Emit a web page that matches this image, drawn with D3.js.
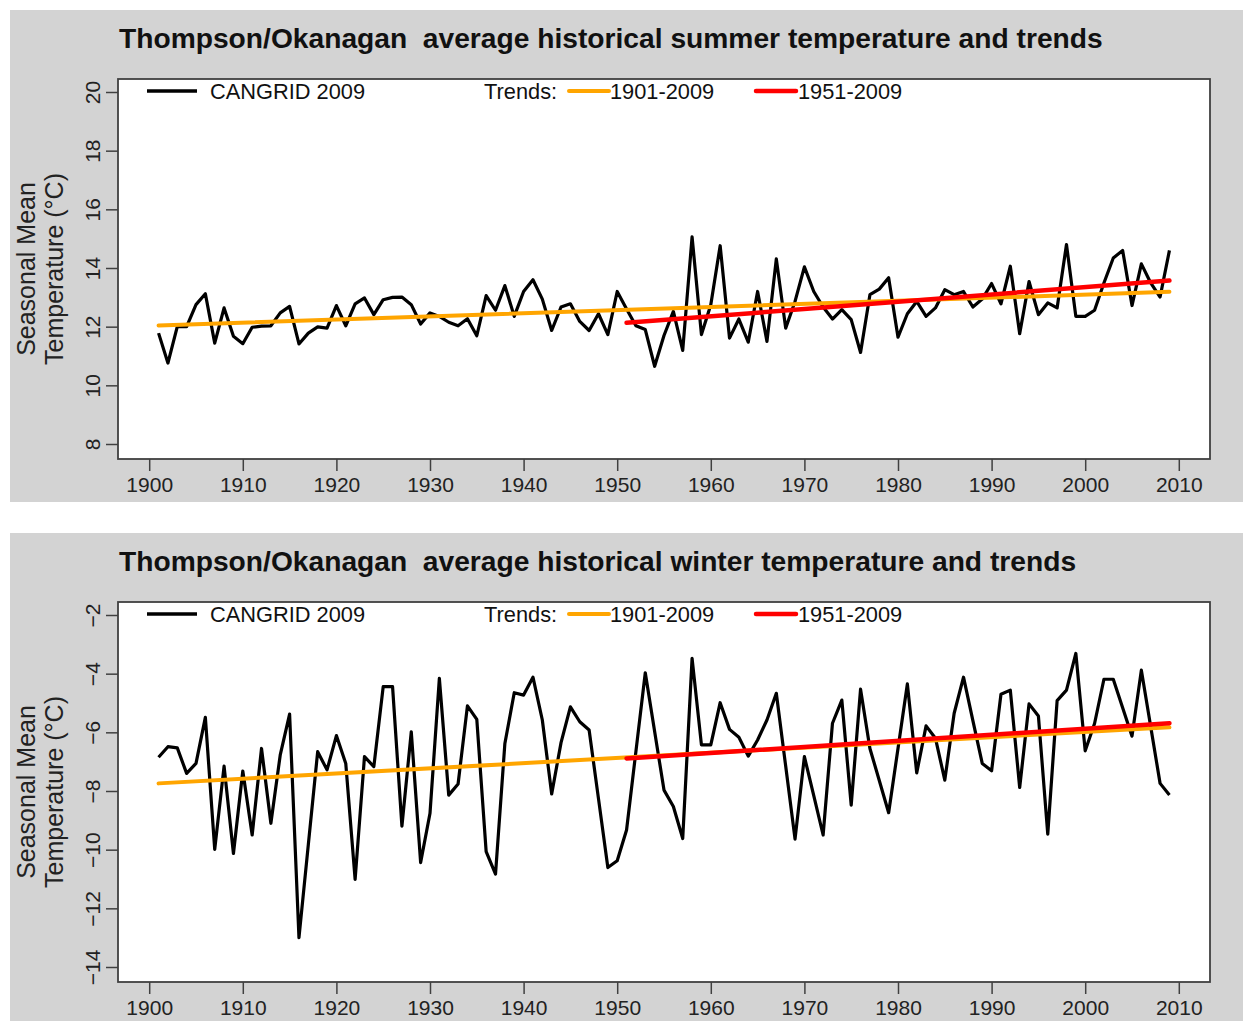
<!DOCTYPE html>
<html>
<head>
<meta charset="utf-8">
<script src="https://cdn.jsdelivr.net/npm/d3@7"></script>
<style>
 body { margin: 0; background: #fff; }
 text { font-family: "Liberation Sans", Arial, sans-serif; }
</style>
</head>
<body>
<script>
// Thompson/Okanagan seasonal mean temperature, two stacked panels

var years = d3.range(1901, 2010);

// summer values, 1901..2009
var summerTemp = [
 11.78, 10.76, 12.0, 12.0, 12.75, 13.12, 11.44, 12.64, 11.67, 11.42,
 11.98, 12.02, 12.03, 12.47, 12.69, 11.41, 11.78, 11.99, 11.95, 12.72,
 12.03, 12.78, 12.98, 12.41, 12.92, 13.0, 13.01, 12.75, 12.09, 12.47,
 12.35, 12.15, 12.03, 12.27, 11.69, 13.06, 12.56, 13.4, 12.35, 13.2,
 13.6, 12.94, 11.87, 12.67, 12.78, 12.18, 11.87, 12.44, 11.73, 13.2,
 12.6, 12.03, 11.9, 10.65, 11.7, 12.52, 11.19, 15.06, 11.73, 12.75,
 14.76, 11.61, 12.26, 11.47, 13.2, 11.5, 14.31, 11.95, 12.86, 14.04,
 13.2, 12.67, 12.26, 12.58, 12.24, 11.12, 13.09, 13.28, 13.67, 11.64,
 12.44, 12.86, 12.35, 12.64, 13.26, 13.09, 13.2, 12.67, 12.94, 13.47,
 12.78, 14.06, 11.76, 13.54, 12.41, 12.81, 12.64, 14.8, 12.35, 12.35,
 12.56, 13.49, 14.34, 14.6, 12.72, 14.14, 13.49, 13.01, 14.6
];

// winter values, 1901..2009
var winterTemp = [
 -6.85, -6.49, -6.53, -7.4, -7.06, -5.49, -9.99, -7.15, -10.13, -7.32,
 -9.5, -6.55, -9.1, -6.77, -5.38, -13.0, -9.83, -6.66, -7.28, -6.11,
 -7.06, -11.01, -6.83, -7.17, -4.44, -4.44, -9.2, -5.98, -10.44, -8.76,
 -4.16, -8.14, -7.76, -5.1, -5.56, -10.07, -10.83, -6.38, -4.65, -4.73,
 -4.12, -5.58, -8.1, -6.35, -5.13, -5.64, -5.92, -8.26, -10.61, -10.38,
 -9.33, -6.65, -3.97, -5.97, -7.97, -8.53, -9.62, -3.48, -6.43, -6.43,
 -4.99, -5.9, -6.17, -6.81, -6.26, -5.58, -4.67, -7.15, -9.64, -6.83,
 -8.16, -9.5, -5.69, -4.9, -8.48, -4.53, -6.55, -7.64, -8.74, -6.55,
 -4.35, -7.38, -5.78, -6.2, -7.63, -5.35, -4.12, -5.6, -7.06, -7.31,
 -4.7, -4.56, -7.88, -5.03, -5.44, -9.47, -4.92, -4.56, -3.31, -6.63,
 -5.7, -4.19, -4.19, -5.16, -6.13, -3.88, -5.81, -7.74, -8.14
];

// trend line end points [start, end]
var trendYears1 = [1901, 2009];
var trendYears2 = [1951, 2009];
var summerTrend1 = [12.04, 13.19];
var summerTrend2 = [12.13, 13.57];
var winterTrend1 = [-7.74, -5.83];
var winterTrend2 = [-6.89, -5.69];

var xTicks = d3.range(1900, 2011, 10);
var summerTicks = [8, 10, 12, 14, 16, 18, 20];
var winterTicks = [-14, -12, -10, -8, -6, -4, -2];

var svg = d3.select("body").append("svg")
 .attr("width", 1243)
 .attr("height", 1021);

var boxLeft = 118, boxRight = 1210;

var x = d3.scaleLinear().domain([1900, 2010]).range([149.2, 1178.8]);

function drawPanel(top, title, values, yDomain, yTicks, trend1, trend2) {
 var g = svg.append("g").attr("transform", "translate(0," + top + ")");

 g.append("rect")
  .attr("x", 10).attr("y", 0)
  .attr("width", 1233).attr("height", 492)
  .attr("fill", "#d3d3d3");

 var boxTop = 69, boxBottom = 449;
 var y = d3.scaleLinear().domain(yDomain).range([434, 82]);

 g.append("rect")
  .attr("x", boxLeft).attr("y", boxTop)
  .attr("width", boxRight - boxLeft).attr("height", boxBottom - boxTop)
  .attr("fill", "#fff")
  .attr("stroke", "#404040")
  .attr("stroke-width", 1.8);

 g.append("text")
  .attr("x", 119).attr("y", 38)
  .attr("font-size", 28.2)
  .attr("font-weight", "bold")
  .attr("fill", "#111")
  .style("white-space", "pre")
  .text(title);

 // x axis
 var xAxis = d3.axisBottom(x).tickValues(xTicks).tickSize(12).tickPadding(6)
  .tickFormat(d3.format("d"));
 var xa = g.append("g").attr("transform", "translate(0," + boxBottom + ")").call(xAxis);
 xa.select(".domain").remove();
 xa.selectAll(".tick line").attr("stroke", "#404040").attr("stroke-width", 1.5);
 xa.selectAll(".tick text")
  .attr("font-size", 21).attr("fill", "#222")
  .attr("font-family", "Liberation Sans, Arial, sans-serif");

 // y axis with rotated labels
 var yAxis = d3.axisLeft(y).tickValues(yTicks).tickSize(12).tickFormat(d3.format("d"));
 var ya = g.append("g").attr("transform", "translate(" + boxLeft + ",0)").call(yAxis);
 ya.select(".domain").remove();
 ya.selectAll(".tick line").attr("stroke", "#404040").attr("stroke-width", 1.5);
 ya.selectAll(".tick text")
  .attr("font-size", 21).attr("fill", "#222")
  .attr("font-family", "Liberation Sans, Arial, sans-serif")
  .attr("x", null).attr("dy", null)
  .attr("text-anchor", "middle")
  .attr("transform", "translate(-18,0) rotate(-90)");

 // axis title, two lines
 var midY = (boxTop + boxBottom) / 2;
 g.append("text")
  .attr("transform", "translate(35," + midY + ") rotate(-90)")
  .attr("text-anchor", "middle")
  .attr("font-size", 25).attr("fill", "#222")
  .text("Seasonal Mean");
 g.append("text")
  .attr("transform", "translate(63," + midY + ") rotate(-90)")
  .attr("text-anchor", "middle")
  .attr("font-size", 25).attr("fill", "#222")
  .text("Temperature (\u00b0C)");

 // series
 var line = d3.line()
  .x(function(d, i) { return x(years[i]); })
  .y(function(d) { return y(d); });

 g.append("path")
  .datum(values)
  .attr("d", line)
  .attr("fill", "none")
  .attr("stroke", "#000")
  .attr("stroke-width", 3.2)
  .attr("stroke-linejoin", "round");

 // trends
 var trendLine = d3.line()
  .x(function(d) { return x(d[0]); })
  .y(function(d) { return y(d[1]); });

 g.append("path")
  .datum(d3.zip(trendYears1, trend1))
  .attr("d", trendLine)
  .attr("stroke", "orange")
  .attr("stroke-width", 4)
  .attr("stroke-linecap", "round");
 g.append("path")
  .datum(d3.zip(trendYears2, trend2))
  .attr("d", trendLine)
  .attr("stroke", "red")
  .attr("stroke-width", 4.5)
  .attr("stroke-linecap", "round");

 // legend
 var ly = 81;
 g.append("line").attr("x1", 147).attr("x2", 197).attr("y1", ly).attr("y2", ly)
  .attr("stroke", "#000").attr("stroke-width", 3.5);
 g.append("text").attr("x", 210).attr("y", ly + 8).attr("font-size", 21.8)
  .attr("fill", "#111").text("CANGRID 2009");
 g.append("text").attr("x", 484).attr("y", ly + 8).attr("font-size", 21.8)
  .attr("fill", "#111").text("Trends:");
 g.append("line").attr("x1", 569).attr("x2", 609).attr("y1", ly).attr("y2", ly)
  .attr("stroke", "orange").attr("stroke-width", 4).attr("stroke-linecap", "round");
 g.append("text").attr("x", 610).attr("y", ly + 8).attr("font-size", 21.8)
  .attr("fill", "#111").text("1901-2009");
 g.append("line").attr("x1", 756).attr("x2", 796).attr("y1", ly).attr("y2", ly)
  .attr("stroke", "red").attr("stroke-width", 4.5).attr("stroke-linecap", "round");
 g.append("text").attr("x", 798).attr("y", ly + 8).attr("font-size", 21.8)
  .attr("fill", "#111").text("1951-2009");
}

drawPanel(10, "Thompson/Okanagan  average historical summer temperature and trends",
 summerTemp, [8, 20], summerTicks, summerTrend1, summerTrend2);
drawPanel(533, "Thompson/Okanagan  average historical winter temperature and trends",
 winterTemp, [-14, -2], winterTicks, winterTrend1, winterTrend2);
</script>
</body>
</html>
